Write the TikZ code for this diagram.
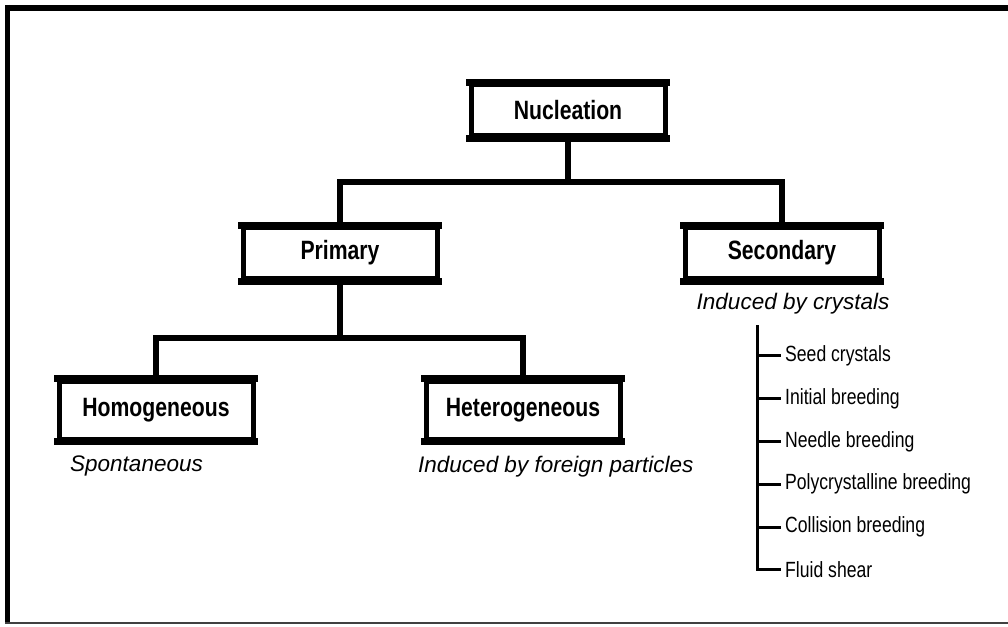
\documentclass[tikz,border=0pt]{standalone}
\usepackage{fontspec}
\setmainfont{Liberation Sans}
\newfontfamily\narrowfont{Liberation Sans}[FakeStretch=0.8]
\usetikzlibrary{positioning}
\tikzset{
  box/.style={draw, line width=5pt, minimum width=194pt, minimum height=51pt, inner sep=0pt,
    font=\narrowfont\bfseries\fontsize{26.5}{30}\selectfont},
  lowbox/.style={box, minimum height=58pt},
  edge/.style={line width=7pt, shorten <=-2.5pt, shorten >=-2.5pt},
  conn/.style={line width=5.5pt},
  note/.style={inner sep=0pt, font=\itshape\fontsize{22.5}{26}\selectfont},
  item/.style={anchor=west, inner sep=4pt, font=\narrowfont\fontsize{22}{26}\selectfont},
  tick/.style={line width=3pt}
}
\begin{document}
\begin{tikzpicture}[x=1pt,y=-1pt]
\useasboundingbox (0,0) rectangle (1008,626);
\draw[line width=6pt] (1008,8) -- (5,8);
\draw[line width=5pt] (7.5,5) -- (7.5,624);
\draw[line width=2pt, black!75] (5,623) -- (1008,623);
\node[box] (nuc) at (568,110) {Nucleation};
\node[box] (pri) at (340,253) {Primary};
\node[box] (sec) at (782,253) {Secondary};
\node[lowbox] (hom) at (156,410) {Homogeneous};
\node[lowbox] (het) at (523,410) {Heterogeneous};
\foreach \n in {nuc,pri,sec,hom,het}{
  \draw[edge] (\n.north west) -- (\n.north east);
  \draw[edge] (\n.south west) -- (\n.south east);
}
\coordinate (split1) at (568,182);
\coordinate (split2) at (340,338);
\draw[conn] (nuc) -- (split1) -| (pri);
\draw[conn] (split1) -| (sec);
\draw[conn] (pri) -- (split2) -| (hom);
\draw[conn] (split2) -| (het);
\node[note, anchor=west] (spon) at (70,466) {Spontaneous};
\node[note, anchor=west] (forg) at (418,467) {Induced by foreign particles};
\node[note] (cry) at (793,304) {Induced by crystals};
\coordinate (brtop) at (757,325);
\foreach \t [count=\i] in {Seed crystals, Initial breeding, Needle breeding, Polycrystalline breeding, Collision breeding, Fluid shear}
  \node[item] (it\i) at (781,313+42.8*\i) {\t};
\foreach \i in {1,...,6}
  \draw[tick] (brtop) |- (it\i.west);
\end{tikzpicture}
\end{document}
